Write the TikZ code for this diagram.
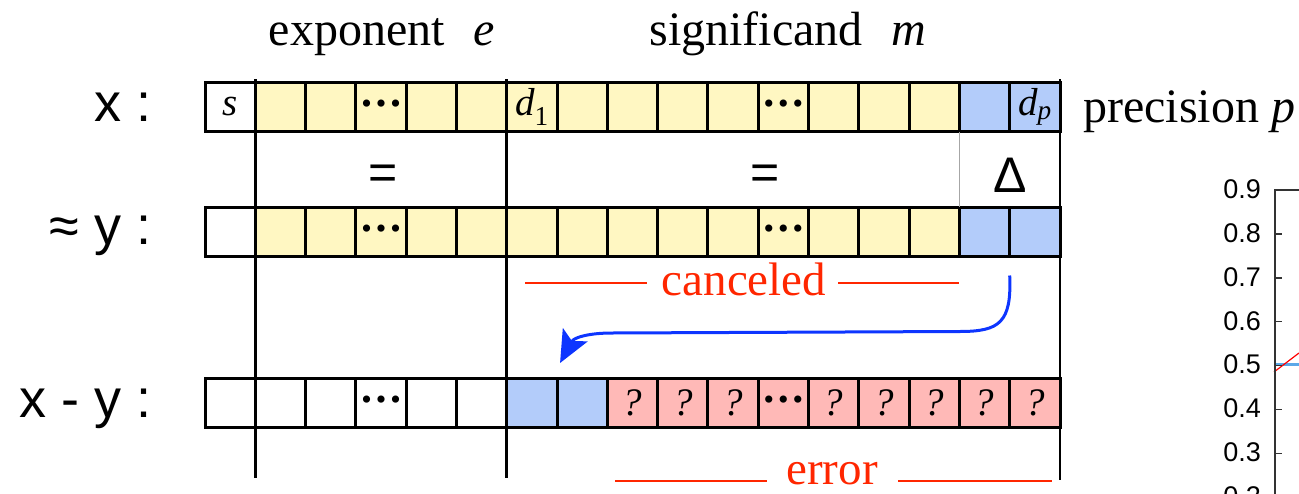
\documentclass[tikz,border=0pt]{standalone}
\usepackage{fontspec}
\setmainfont{Liberation Serif}
\newfontfamily\sansf{Liberation Sans}
\usetikzlibrary{calc,arrows.meta}
\definecolor{cellyellow}{HTML}{FFF7C2}
\definecolor{cellblue}{HTML}{B3CCFA}
\definecolor{cellpink}{HTML}{FFB9B7}
\definecolor{redtxt}{HTML}{FF2600}
\definecolor{arrblue}{HTML}{0D35FF}
\definecolor{plotblue}{HTML}{5BA8E8}
\newcommand{\mydots}{{\fontsize{30}{30}\selectfont •\hspace{4pt}•\hspace{4pt}•}}
\begin{document}
\begin{tikzpicture}[x=1pt,y=-1pt,
  cell/.style={draw=black, line width=3pt, minimum width=50.294pt, minimum height=49.5pt,
    inner sep=0pt, outer sep=0pt, anchor=north west, font=\fontsize{39}{43}\selectfont},
  ycell/.style={cell, fill=cellyellow},
  bcell/.style={cell, fill=cellblue},
  pcell/.style={cell, fill=cellpink},
  wcell/.style={cell, fill=white},
  sep/.style={line width=2.8pt, black},
  rowlabel/.style={anchor=base east, font=\sansf\fontsize{54}{58}\selectfont},
  midlabel/.style={anchor=base, font=\sansf\fontsize{50}{54}\selectfont},
  head/.style={font=\fontsize{48}{52}\selectfont, anchor=base},
  redlab/.style={font=\fontsize{47}{51}\selectfont, text=redtxt, anchor=base},
  redline/.style={draw=redtxt, line width=2.8pt},
  ticklab/.style={font=\sansf\fontsize{27}{30}\selectfont, anchor=east, inner sep=0pt},
  axisline/.style={draw=black!80, line width=1.5pt},
]
\useasboundingbox (0,0) rectangle (1299,493);

% row x
\foreach \i/\s/\t in {0/wcell/{\itshape s},1/ycell/{},2/ycell/{},3/ycell/{\mydots},4/ycell/{},5/ycell/{},
  6/ycell/{{\itshape d}\textsubscript{1}},7/ycell/{},8/ycell/{},9/ycell/{},10/ycell/{},11/ycell/{\mydots},
  12/ycell/{},13/ycell/{},14/ycell/{},15/bcell/{},16/bcell/{{\itshape d}\textsubscript{\itshape p}}}
  \node[\s] (a\i) at ({205+\i*50.294},82) {\t};

% row y
\foreach \i/\s/\t in {0/wcell/{},1/ycell/{},2/ycell/{},3/ycell/{\mydots},4/ycell/{},5/ycell/{},
  6/ycell/{},7/ycell/{},8/ycell/{},9/ycell/{},10/ycell/{},11/ycell/{\mydots},
  12/ycell/{},13/ycell/{},14/ycell/{},15/bcell/{},16/bcell/{}}
  \node[\s] (b\i) at ({205+\i*50.294},207) {\t};

% row x - y
\foreach \i/\s/\t in {0/wcell/{},1/wcell/{},2/wcell/{},3/wcell/{\mydots},4/wcell/{},5/wcell/{},
  6/bcell/{},7/bcell/{},8/pcell/{\itshape ?},9/pcell/{\itshape ?},10/pcell/{\itshape ?},11/pcell/{\mydots},
  12/pcell/{\itshape ?},13/pcell/{\itshape ?},14/pcell/{\itshape ?},15/pcell/{\itshape ?},16/pcell/{\itshape ?}}
  \node[\s] (c\i) at ({205+\i*50.294},378) {\t};

% separators
\draw[sep] ($(a1.north west)+(0,-3)$) -- ($(c1.south west)+(0,50)$);
\draw[sep] ($(a6.north west)+(0,-3)$) -- ($(c6.south west)+(0,50)$);
\draw[sep] ($(a16.north east)+(0,-3)$) -- ($(c16.south east)+(0,52)$);
\draw[gray!70, line width=1.5pt] (a15.south west) -- (b15.north west);

% row labels
\node[rowlabel] (lx) at (155,121) {x :};
\node[rowlabel] (ly) at (155,244) {≈ y :};
\node[rowlabel] (lxy) at (155,417) {x - y :};

% headers
\node[head] (hexp) at (382,45) {exponent\hspace{0.6em}\textit{e}};
\node[head] (hsig) at (788,45) {significand\hspace{0.6em}\textit{m}};
\node[head, anchor=base west, inner sep=0pt] (hprec) at (1083,122) {precision \textit{p}};

% middle labels
\node[midlabel] (eq1) at (383,189) {=};
\node[midlabel] (eq2) at (765,189) {=};
\node[midlabel] (delta) at (1010,192) {Δ};

% canceled
\node[redlab] (canc) at (744,295) {canceled};
\draw[redline] (525,283) -- (647,283);
\draw[redline] (838,283) -- (959,283);

% error
\node[redlab] (err) at (832,484) {error};
\draw[redline] (615,481) -- (767,481);
\draw[redline] (898,481) -- (1052,481);

% arrow
\coordinate (arrS) at ($(b15.south east)+(0,19)$);
\coordinate (arrE) at ($(c7.north west)+(3,-15)$);
\draw[arrblue, line width=3pt, -{Stealth[length=32pt,width=28pt,inset=7pt]}]
  (arrS) .. controls ($(arrS)+(2,47)$) and ($(arrS)+(-10,56)$) .. ($(arrS)+(-50,56)$)
  -- ($(arrE)+(52,-30)$)
  .. controls ($(arrE)+(30,-30)$) and ($(arrE)+(14,-26)$) .. (arrE);

% plot fragment
\draw[plotblue, line width=2.5pt] (1275,364.7) -- (1299,364.7);
\draw[red, line width=1.2pt] (1274,372) -- (1299,353);
\draw[axisline] (1275,500) -- (1275,190) -- (1299,190);
\foreach \k/\v in {0/0.9,1/0.8,2/0.7,3/0.6,4/0.5,5/0.4,6/0.3,7/0.2} {
  \draw[axisline] (1275,{190+\k*43.9}) -- (1282,{190+\k*43.9});
  \node[ticklab] (t\k) at (1261,{189+\k*43.9}) {\v};
}
\end{tikzpicture}
\end{document}
